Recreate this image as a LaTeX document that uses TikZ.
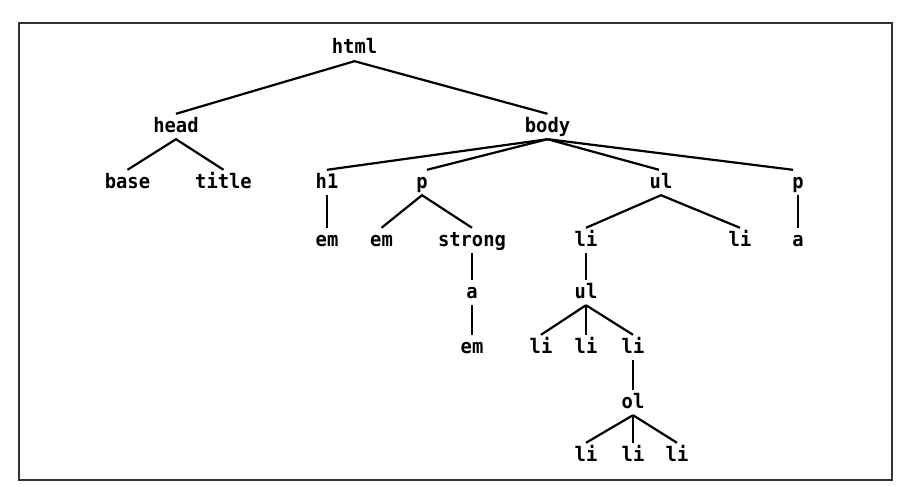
\documentclass[tikz,border=0pt]{standalone}
\usepackage{fontspec}
\setmonofont{DejaVu Sans Mono}[FakeStretch=0.94]
\begin{document}
\begin{tikzpicture}[x=1pt,y=-1pt,
  tag/.style={font=\ttfamily\bfseries\fontsize{20}{23}\selectfont, anchor=base,
    text height=15pt, text depth=4pt, inner xsep=1pt, inner ysep=3pt},
  edge/.style={line width=2.2pt, black},
  frame/.style={line width=1.5pt, black!80}]
\useasboundingbox (0,0) rectangle (906,487);
\draw[frame] (19,23) rectangle (892,480);
% nodes
\node[tag] (html) at (354.5,54) {html};
\node[tag] (head) at (176,132) {head};
\node[tag] (body) at (547.5,132) {body};
\node[tag] (base) at (127.5,188) {base};
\node[tag] (title) at (223.5,188) {title};
\node[tag] (h1) at (327,188) {h1};
\node[tag] (p1) at (422,188) {p};
\node[tag] (ul1) at (661,188) {ul};
\node[tag] (p2) at (798,188) {p};
\node[tag] (em1) at (327,246) {em};
\node[tag] (em2) at (381.5,246) {em};
\node[tag] (strong) at (472,246) {strong};
\node[tag] (li1) at (586,246) {li};
\node[tag] (li2) at (740,246) {li};
\node[tag] (a2) at (798,246) {a};
\node[tag] (a1) at (472,298) {a};
\node[tag] (ul2) at (586,298) {ul};
\node[tag] (em3) at (472,353) {em};
\node[tag] (li3) at (541,353) {li};
\node[tag] (li4) at (586,353) {li};
\node[tag] (li5) at (633,353) {li};
\node[tag] (ol) at (633,408) {ol};
\node[tag] (li6) at (586,461) {li};
\node[tag] (li7) at (633,461) {li};
\node[tag] (li8) at (677,461) {li};
% edges
\draw[edge] (head.north) -- (html.south) -- (body.north);
\draw[edge] (base.north) -- (head.south) -- (title.north);
\draw[edge] (body.south) -- (h1.north);
\draw[edge] (body.south) -- ([xshift=5pt]p1.north);
\draw[edge] (body.south) -- ([xshift=-2pt]ul1.north);
\draw[edge] (body.south) -- ([xshift=-5pt]p2.north);
\draw[edge] (h1.south) -- (em1.north);
\draw[edge] (em2.north) -- (p1.south) -- (strong.north);
\draw[edge] (li1.north) -- (ul1.south) -- (li2.north);
\draw[edge] (p2.south) -- (a2.north);
\draw[edge] (strong.south) -- (a1.north);
\draw[edge] (a1.south) -- (em3.north);
\draw[edge] (li1.south) -- (ul2.north);
\draw[edge] (ul2.south) -- (li3.north);
\draw[edge] (ul2.south) -- (li4.north);
\draw[edge] (ul2.south) -- (li5.north);
\draw[edge] (li5.south) -- (ol.north);
\draw[edge] (ol.south) -- (li6.north);
\draw[edge] (ol.south) -- (li7.north);
\draw[edge] (ol.south) -- (li8.north);
\end{tikzpicture}
\end{document}
